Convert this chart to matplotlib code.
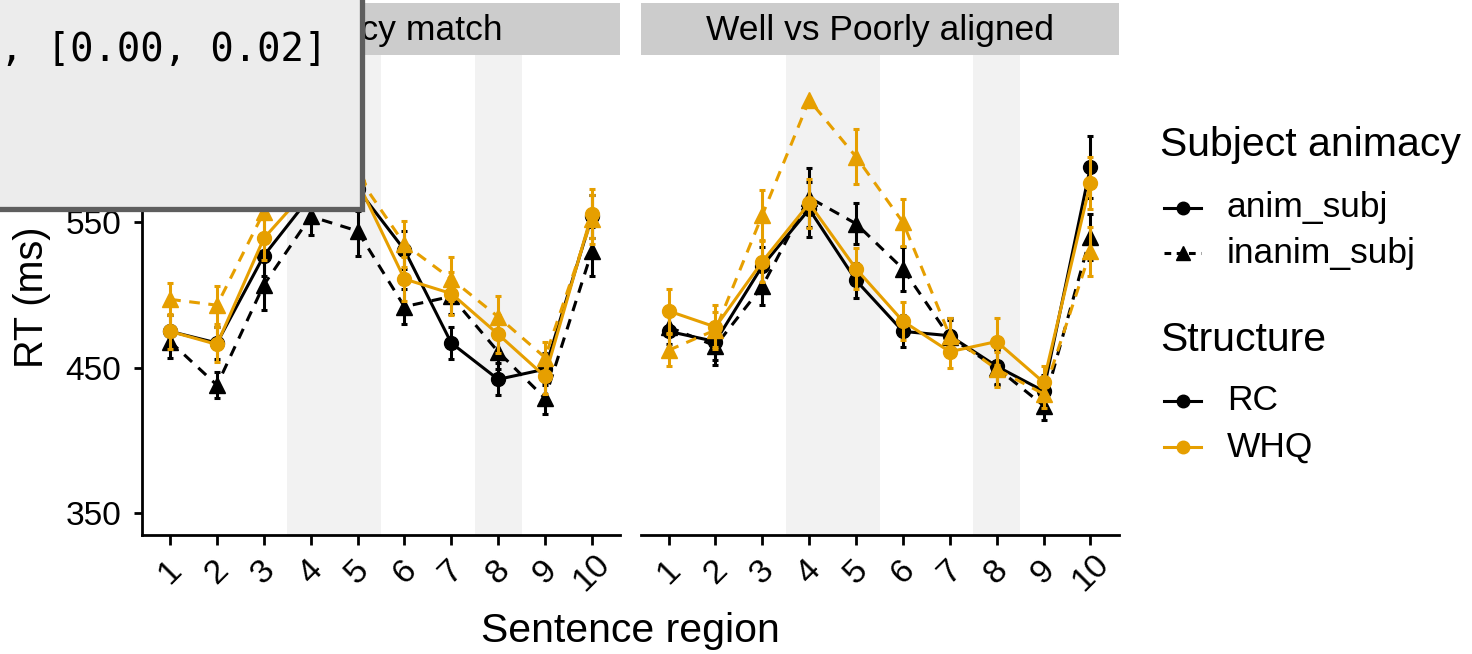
import numpy as np
import matplotlib
matplotlib.use("Agg")
import matplotlib.pyplot as plt
from matplotlib.lines import Line2D
from matplotlib.patches import Rectangle

plt.rcParams["font.family"] = ["Liberation Sans", "DejaVu Sans"]

# ---- data -------------------------------------------------------------
regions = [1, 2, 3, 4, 5, 6, 7, 8, 9, 10]
region_labels = ["1", "2", "3", "4", "5", "6", "7", "8", "9", "10"]
panels = ["Animacy match", "Well vs Poorly aligned"]
structures = ["RC", "WHQ"]
animacy = ["anim_subj", "inanim_subj"]
y_ticks = [350, 450, 550]

# mean RT (ms) per region -- "Animacy match"
match_rc_anim = [475, 467, 527, 568, 573, 531, 467, 442, 449, 554]
match_rc_inanim = [468, 438, 507, 554, 544, 492, 499, 461, 429, 530]
match_whq_anim = [475, 466, 539, 575, 578, 511, 501, 473, 444, 556]
match_whq_inanim = [497, 493, 557, 590, 582, 535, 511, 485, 457, 552]

# standard errors -- "Animacy match"
match_rc_anim_se = [11, 11, 14, 15, 15, 13, 11, 11, 11, 15]
match_rc_inanim_se = [11, 9, 17, 13, 17, 12, 12, 12, 11, 17]
match_whq_anim_se = [12, 12, 15, 15, 15, 15, 15, 13, 12, 17]
match_whq_inanim_se = [11, 13, 16, 15, 15, 16, 15, 14, 11, 17]

# mean RT (ms) per region -- "Well vs Poorly aligned"
align_rc_anim = [475, 468, 520, 559, 510, 475, 472, 451, 434, 588]
align_rc_inanim = [478, 465, 506, 567, 549, 518, 471, 450, 424, 540]
align_whq_anim = [489, 478, 523, 563, 518, 482, 461, 468, 440, 577]
align_whq_inanim = [462, 476, 555, 634, 595, 550, 472, 449, 432, 530]

# standard errors -- "Well vs Poorly aligned" (NaN: interval outside the axis limits)
align_rc_anim_se = [12, 13, 13, 19, 12, 11, 12, 12, 11, 21]
align_rc_inanim_se = [12, 13, 13, 20, 14, 15, 12, 12, 10, 16]
align_whq_anim_se = [15, 15, 14, 17, 14, 13, 11, 16, 11, 18]
align_whq_inanim_se = [11, 12, 17, np.nan, 19, 16, 12, 12, 10, 17]

panel_data = {
    "Animacy match": {
        ("RC", "anim_subj"): (match_rc_anim, match_rc_anim_se),
        ("RC", "inanim_subj"): (match_rc_inanim, match_rc_inanim_se),
        ("WHQ", "anim_subj"): (match_whq_anim, match_whq_anim_se),
        ("WHQ", "inanim_subj"): (match_whq_inanim, match_whq_inanim_se),
    },
    "Well vs Poorly aligned": {
        ("RC", "anim_subj"): (align_rc_anim, align_rc_anim_se),
        ("RC", "inanim_subj"): (align_rc_inanim, align_rc_inanim_se),
        ("WHQ", "anim_subj"): (align_whq_anim, align_whq_anim_se),
        ("WHQ", "inanim_subj"): (align_whq_inanim, align_whq_inanim_se),
    },
}

# highlighted critical regions
shaded_spans = [(3.5, 5.5), (7.5, 8.5)]

# ---- styling ----------------------------------------------------------
colors = {"RC": "#000000", "WHQ": "#E69F00"}
styles = {"anim_subj": ("-", "o", 10), "inanim_subj": ((0, (3.5, 2.8)), "^", 11)}
LW = 2.2

W, H = 1472, 654
fig = plt.figure(figsize=(W / 100, H / 100), dpi=100)
fig.patch.set_facecolor("white")

panel_left = [142, 640.5]
panel_w = 478
panel_top, panel_bottom = 55, 535
strip_top = 3

for i, name in enumerate(panels):
    ax = fig.add_axes([panel_left[i] / W, 1 - panel_bottom / H,
                       panel_w / W, (panel_bottom - panel_top) / H])
    for a, b in shaded_spans:
        ax.axvspan(a, b, color="#f2f2f2", lw=0, zorder=0)
    for s in structures:
        for an in animacy:
            means, se = panel_data[name][(s, an)]
            ls, mk, ms = styles[an]
            ax.plot(regions, means, color=colors[s], linestyle=ls, lw=LW,
                    marker=mk, markersize=ms, zorder=3)
            ax.errorbar(regions, means, yerr=se, fmt="none", ecolor=colors[s],
                        elinewidth=LW, capsize=2.4, capthick=LW, zorder=3)
    ax.set_xlim(0.4, 10.6)
    ax.set_ylim(335, 665)
    ax.set_xticks(regions)
    ax.set_xticklabels(region_labels, rotation=45, ha="center", va="center",
                       fontsize=24.5)
    ax.set_yticks(y_ticks)
    ax.set_yticklabels([str(t) for t in y_ticks], fontsize=24)
    ax.tick_params(axis="x", length=7, width=2, pad=20, colors="black")
    ax.tick_params(axis="y", length=6, width=2, pad=9, colors="black")
    for sp in ["top", "right"]:
        ax.spines[sp].set_visible(False)
    ax.spines["bottom"].set_linewidth(2)
    ax.spines["left"].set_linewidth(2)
    if i == 1:
        ax.spines["left"].set_visible(False)
        ax.tick_params(axis="y", left=False, labelleft=False)
    ax.set_facecolor("white")

    # facet strip
    sax = fig.add_axes([panel_left[i] / W, 1 - panel_top / H,
                        panel_w / W, (panel_top - strip_top) / H])
    sax.set_facecolor("#cccccc")
    sax.set_xticks([])
    sax.set_yticks([])
    for sp in sax.spines.values():
        sp.set_visible(False)
    sax.text(0.5, 0.47, name, ha="center", va="center", fontsize=25.5,
             transform=sax.transAxes)

# axis titles
fig.text(630 / W, 1 - 631 / H, "Sentence region", ha="center", va="center",
         fontsize=29.5)
fig.text(32 / W, 1 - 297 / H, "RT (ms)", ha="center", va="center",
         rotation=90, fontsize=28.5)

# legends
def px(x, y):
    return x / W, 1 - y / H

leg_items = [
    ("title", "Subject animacy", 156),
    ("anim", "anim_subj", 208),
    ("inanim", "inanim_subj", 253),
    ("title", "Structure", 351),
    ("RC", "RC", 401),
    ("WHQ", "WHQ", 447),
]
for kind, label, y in leg_items:
    if kind == "title":
        fig.text(*px(1160, y), label, ha="left", va="baseline", fontsize=29.5)
        continue
    if kind == "anim":
        col, ls, mk, ms = "black", "-", "o", 9
    elif kind == "inanim":
        col, ls, mk, ms = "black", (0, (2.2, 1.8)), "^", 10
    else:
        col, ls, mk, ms = colors[kind], "-", "o", 9
    x0, y0 = px(1164, y)
    x1, _ = px(1201, y)
    fig.add_artist(Line2D([x0, x1], [y0, y0], color=col, lw=LW, linestyle=ls,
                          transform=fig.transFigure))
    fig.add_artist(Line2D([(x0 + x1) / 2], [y0], color=col, marker=mk,
                          markersize=ms, lw=0, transform=fig.transFigure))
    fig.text(*px(1227, y), label, ha="left", va="center", fontsize=25.5)

# console overlay box
box = Rectangle((-10 / W, 1 - 209 / H), 372 / W, 230 / H,
                transform=fig.transFigure, facecolor="#ececec",
                edgecolor="#5e5e5e", linewidth=3.8, zorder=50)
fig.add_artist(box)
fig.text(0 / W, 1 - 61 / H, ", [0.00, 0.02]", ha="left", va="baseline",
         fontsize=28, family="DejaVu Sans Mono", zorder=51)

fig.savefig("out.png", dpi=100)
